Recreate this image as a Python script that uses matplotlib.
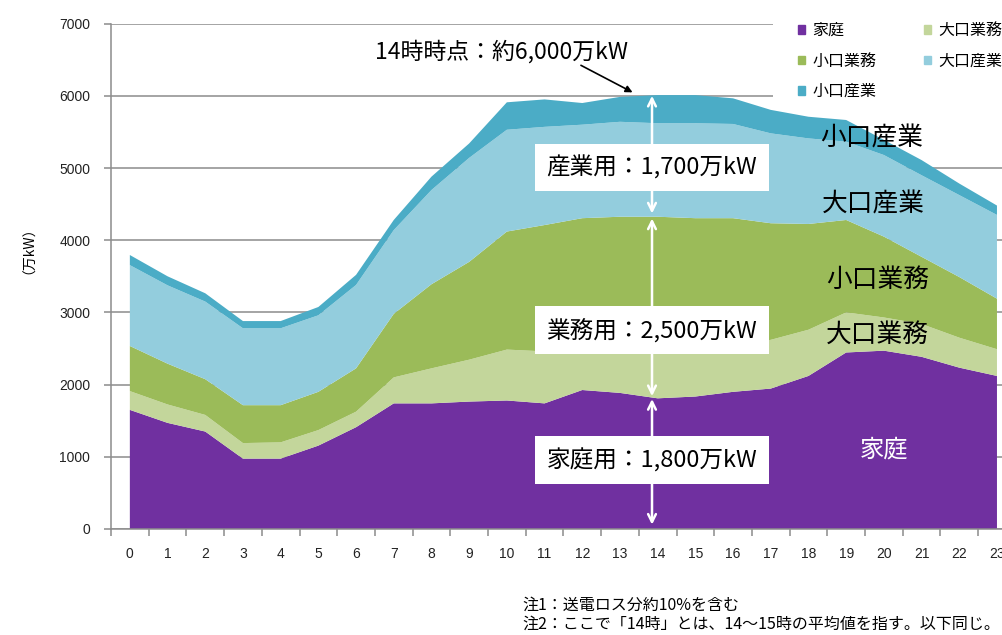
import matplotlib
matplotlib.use('Agg')
import matplotlib.pyplot as plt
from matplotlib.patches import Patch, Rectangle

plt.rcParams['font.family'] = ['Noto Sans CJK JP', 'DejaVu Sans']

# 時刻（0〜23時）
hours = list(range(24))
# 各部門の電力需要（万kW）
katei = [1650, 1470, 1350, 975, 975, 1155, 1410, 1740, 1740, 1765, 1780, 1740,
         1925, 1885, 1810, 1835, 1900, 1945, 2120, 2445, 2470, 2385, 2235, 2120]
ooguchi_gyomu = [260, 255, 230, 215, 225, 215, 215, 360, 485, 580, 705, 720,
                 565, 615, 690, 695, 660, 675, 640, 555, 460, 455, 415, 370]
koguchi_gyomu = [625, 565, 495, 525, 515, 530, 600, 880, 1165, 1355, 1635, 1750,
                 1815, 1825, 1825, 1775, 1745, 1615, 1465, 1280, 1120, 930, 840, 700]
ooguchi_sangyo = [1120, 1085, 1075, 1065, 1065, 1060, 1155, 1160, 1305, 1440, 1410, 1360,
                  1295, 1315, 1295, 1315, 1305, 1245, 1185, 1085, 1130, 1130, 1135, 1160]
koguchi_sangyo = [140, 125, 115, 100, 100, 115, 140, 140, 185, 200, 380, 380,
                  300, 345, 390, 390, 355, 325, 300, 300, 210, 210, 160, 130]

labels = ['家庭', '大口業務', '小口業務', '大口産業', '小口産業']
colors = ['#7030A0', '#C3D69B', '#9BBB59', '#93CDDD', '#4BACC6']

fig = plt.figure(figsize=(10.03, 6.35), dpi=100)
ax = fig.add_axes([111 / 1003, 106 / 635, 1 - 111 / 1003, 0.7959])

ax.stackplot(hours, katei, ooguchi_gyomu, koguchi_gyomu, ooguchi_sangyo, koguchi_sangyo,
             colors=colors, labels=labels, zorder=1)

ax.set_axisbelow(True)
ax.yaxis.grid(True, color='#8c8c8c', lw=1.1)
ax.set_yticks(range(0, 7001, 1000))
ax.set_xticks(hours)
ax.set_xticks([h - 0.5 for h in hours] + [23.5], minor=True)
# 目盛り設定の後で範囲を決める（右端は切れている）
ax.set_xlim(-0.5, 23.16)
ax.set_ylim(0, 7000)
ax.tick_params(axis='x', which='major', length=0, pad=13, labelsize=10)
ax.tick_params(axis='x', which='minor', length=5, color='#8c8c8c', width=1.1)
ax.tick_params(axis='y', length=5, color='#8c8c8c', width=1.1, pad=10, labelsize=10)
for lab in ax.get_xticklabels() + ax.get_yticklabels():
    lab.set_family(['Liberation Sans', 'DejaVu Sans'])
    lab.set_color('#222222')
for s in ['top', 'right']:
    ax.spines[s].set_visible(False)
for s in ['left', 'bottom']:
    ax.spines[s].set_color('#8c8c8c')
    ax.spines[s].set_linewidth(1.1)

# 凡例の背景（グリッド線を隠す）
ax.add_patch(Rectangle((773 / 1003, 1 - 102 / 635), 1, 102 / 635, transform=fig.transFigure,
                       facecolor='white', edgecolor='none', zorder=0.8, clip_on=False))
handles = [Patch(color=c) for c in colors]
order = [0, 2, 4, 1, 3]
ax.legend([handles[i] for i in order], [labels[i] for i in order], ncol=2,
          loc='upper left', bbox_to_anchor=(798 / 1003, 1 - 22 / 635),
          bbox_transform=fig.transFigure, frameon=False, fontsize=11.5,
          handlelength=0.45, handleheight=0.45, handletextpad=0.45,
          labelspacing=0.85, columnspacing=3.0, borderpad=0, borderaxespad=0)

# 14時の注記
ax.text(9.87, 6607, '14時時点：約6,000万kW', fontsize=16.5, ha='center', va='center')
ax.annotate('', xy=(13.4, 6030), xytext=(11.9, 6440),
            arrowprops=dict(arrowstyle='-|>', color='black', lw=1.2, mutation_scale=10))

xa = 13.85
for y0, y1 in [(6000, 4370), (4300, 1840), (1800, 60)]:
    ax.annotate('', xy=(xa, y0), xytext=(xa, y1),
                arrowprops=dict(arrowstyle='<->', color='white', lw=1.8, mutation_scale=14,
                                shrinkA=0, shrinkB=0))

box = dict(boxstyle='square,pad=0.5', facecolor='white', edgecolor='none')
ax.text(xa, 5007, '産業用：1,700万kW', fontsize=17, ha='center', va='center', bbox=box)
ax.text(xa, 2756, '業務用：2,500万kW', fontsize=17, ha='center', va='center', bbox=box)
ax.text(xa, 955, '家庭用：1,800万kW', fontsize=17, ha='center', va='center', bbox=box)

ax.text(19.67, 5415, '小口産業', fontsize=18.5, ha='center', va='center')
ax.text(19.73, 4488, '大口産業', fontsize=18.5, ha='center', va='center')
ax.text(19.84, 3449, '小口業務', fontsize=18.5, ha='center', va='center')
ax.text(19.84, 2687, '大口業務', fontsize=18.5, ha='center', va='center')
ax.text(20.0, 1094, '家庭', fontsize=17.5, ha='center', va='center', color='white')

fig.text(22 / 1003, 1 - 243 / 635, '（万kW）', rotation=90, fontsize=10,
         ha='center', va='center')

fig.text(522 / 1003, 1 - 605 / 635, '注1：送電ロス分約10%を含む', fontsize=11.5,
         ha='left', va='center')
fig.text(522 / 1003, 1 - 624 / 635, '注2：ここで「14時」とは、14～15時の平均値を指す。以下同じ。',
         fontsize=11.5, ha='left', va='center')

fig.savefig('out.png', dpi=100)
